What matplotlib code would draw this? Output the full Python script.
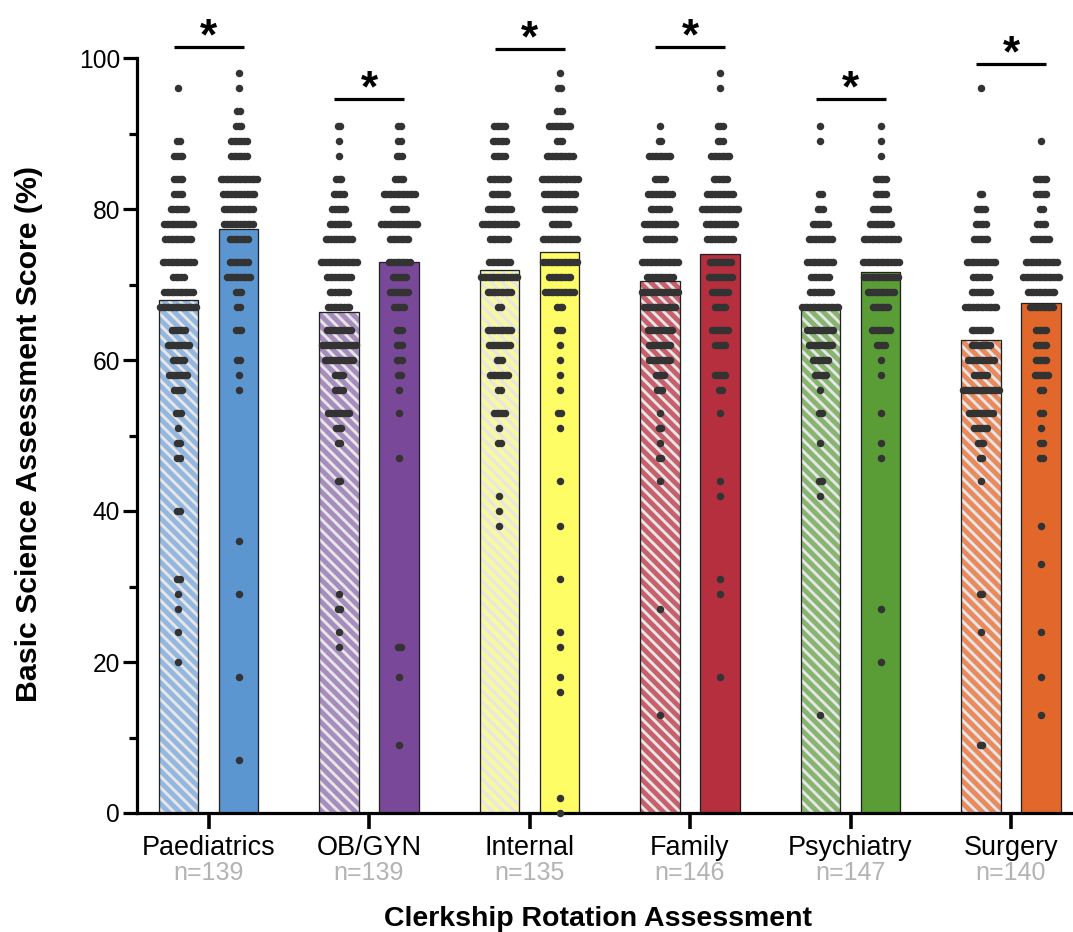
import matplotlib
matplotlib.use("Agg")
import matplotlib.pyplot as plt
from matplotlib.collections import LineCollection
from matplotlib.transforms import blended_transform_factory

DPI = 132
W, H = 1073, 932

plt.rcParams['font.family'] = ['Liberation Sans', 'DejaVu Sans']

# ---------------- data ----------------
categories = ['Paediatrics', 'OB/GYN', 'Internal', 'Family', 'Psychiatry', 'Surgery']
n_labels = ['n=139', 'n=139', 'n=135', 'n=146', 'n=147', 'n=140']

mean_before = [67.9, 66.3, 71.9, 70.4, 66.7, 62.6]
mean_after = [77.4, 73.0, 74.3, 74.0, 71.6, 67.5]
sig_height = [101.5, 94.6, 101.2, 101.5, 94.6, 99.2]

# score levels (value) and number of students at each level (count)
paed_before_vals = [96, 89, 87, 84, 82, 80, 78, 76, 73, 71, 69, 67, 64, 62, 60, 58, 56, 53, 51, 49, 47, 40, 31, 29, 27, 24, 20]
paed_before_cnts = [1, 2, 4, 4, 4, 7, 12, 11, 13, 5, 12, 15, 6, 9, 5, 8, 4, 3, 1, 2, 2, 2, 2, 1, 1, 1, 1]
paed_after_vals = [98, 96, 93, 91, 89, 87, 84, 82, 80, 78, 76, 73, 71, 69, 67, 64, 60, 58, 56, 36, 29, 18, 7]
paed_after_cnts = [1, 1, 2, 3, 7, 7, 15, 13, 12, 12, 8, 8, 10, 3, 2, 3, 2, 1, 1, 1, 1, 1, 1]

obgyn_before_vals = [91, 89, 87, 84, 82, 80, 78, 76, 73, 71, 69, 67, 64, 62, 60, 58, 56, 53, 51, 49, 44, 29, 27, 24, 22]
obgyn_before_cnts = [2, 1, 1, 3, 5, 6, 8, 11, 15, 10, 8, 9, 10, 14, 12, 4, 4, 9, 3, 2, 2, 1, 2, 1, 1]
obgyn_after_vals = [91, 89, 87, 84, 82, 80, 78, 76, 73, 71, 69, 67, 64, 62, 60, 58, 56, 53, 47, 22, 18, 9]
obgyn_after_cnts = [2, 2, 3, 4, 13, 6, 15, 8, 9, 6, 8, 5, 3, 3, 3, 2, 1, 1, 1, 2, 1, 1]

internal_before_vals = [91, 89, 87, 84, 82, 80, 78, 76, 73, 71, 69, 67, 64, 62, 60, 58, 56, 53, 51, 49, 42, 40, 38]
internal_before_cnts = [5, 6, 5, 8, 7, 10, 14, 8, 9, 15, 10, 2, 10, 9, 3, 8, 2, 5, 1, 2, 1, 1, 1]
internal_after_vals = [98, 96, 93, 91, 89, 87, 84, 82, 80, 78, 76, 73, 71, 69, 67, 64, 62, 60, 58, 56, 53, 51, 44, 38, 31, 24, 22, 18, 16, 2, 0]
internal_after_cnts = [1, 2, 3, 9, 3, 11, 15, 13, 12, 7, 14, 14, 9, 12, 3, 3, 1, 1, 1, 1, 2, 1, 1, 1, 1, 1, 1, 1, 1, 1, 1]

family_before_vals = [91, 89, 87, 84, 82, 80, 78, 76, 73, 71, 69, 67, 64, 62, 60, 58, 56, 53, 51, 49, 47, 44, 27, 13]
family_before_cnts = [1, 2, 9, 5, 10, 8, 13, 12, 15, 11, 15, 13, 10, 9, 9, 4, 3, 1, 2, 1, 2, 1, 1, 1]
family_after_vals = [98, 96, 91, 89, 87, 84, 82, 80, 78, 76, 73, 71, 69, 67, 64, 62, 58, 56, 53, 44, 42, 31, 29, 18]
family_after_cnts = [1, 1, 3, 3, 8, 6, 11, 15, 12, 11, 9, 10, 7, 5, 7, 5, 5, 2, 1, 1, 1, 1, 1, 1]

psych_before_vals = [91, 89, 82, 80, 78, 76, 73, 71, 69, 67, 64, 62, 60, 58, 56, 53, 49, 44, 42, 13]
psych_before_cnts = [1, 1, 2, 3, 7, 10, 11, 8, 9, 15, 11, 10, 7, 5, 1, 2, 1, 2, 1, 1]
psych_after_vals = [91, 89, 87, 84, 82, 80, 78, 76, 73, 71, 69, 67, 64, 62, 60, 58, 53, 49, 47, 27, 20]
psych_after_cnts = [1, 1, 1, 5, 5, 7, 9, 14, 15, 14, 11, 7, 8, 4, 1, 1, 1, 1, 1, 1, 1]

surgery_before_vals = [96, 82, 80, 78, 76, 73, 71, 69, 67, 64, 62, 60, 58, 56, 53, 51, 49, 47, 44, 29, 24, 9]
surgery_before_cnts = [1, 2, 4, 5, 6, 12, 7, 8, 13, 8, 8, 11, 6, 15, 10, 6, 3, 2, 1, 2, 1, 2]
surgery_after_vals = [89, 84, 82, 80, 78, 76, 73, 71, 69, 67, 64, 62, 60, 58, 56, 53, 51, 49, 47, 38, 33, 24, 18, 13]
surgery_after_cnts = [1, 5, 5, 2, 4, 7, 13, 15, 11, 10, 5, 5, 5, 6, 2, 2, 1, 2, 2, 1, 1, 1, 1, 1]

before_vals = [paed_before_vals, obgyn_before_vals, internal_before_vals, family_before_vals, psych_before_vals, surgery_before_vals]
before_cnts = [paed_before_cnts, obgyn_before_cnts, internal_before_cnts, family_before_cnts, psych_before_cnts, surgery_before_cnts]
after_vals = [paed_after_vals, obgyn_after_vals, internal_after_vals, family_after_vals, psych_after_vals, surgery_after_vals]
after_cnts = [paed_after_cnts, obgyn_after_cnts, internal_after_cnts, family_after_cnts, psych_after_cnts, surgery_after_cnts]

light_colors = ['#93b7de', '#a78cbe', '#f8f7a2', '#c7606b', '#87b56f', '#ea8a5c']
dark_colors = ['#5b96d1', '#7a4898', '#fefd66', '#b52f3e', '#5a9c36', '#e2672a']
stripe_color = '#e6e6e6'
dot_color = '#333333'
n_color = '#b3b3b3'

# ---------------- layout (pixel geometry) ----------------
def pt(px):
    return px * 72.0 / DPI

X0_PX, X_STEP_PX = 208.5, 160.5     # group centre of first category, spacing
AX_L, AX_BOT = 137, 813             # y-axis spine x, x-axis y (pixels from top)
Y_PX = 7.55                         # pixels per score unit
STRIPE_SP = 11.0                    # horizontal stripe period in px

fig = plt.figure(figsize=(W / DPI, H / DPI), dpi=DPI)
ax = fig.add_axes([AX_L / W, (H - AX_BOT) / H, (W - AX_L) / W, AX_BOT / H])
ax.set_xlim((AX_L - X0_PX) / X_STEP_PX, (W - X0_PX) / X_STEP_PX)
ax.set_ylim(0, AX_BOT / Y_PX)

bar_w = 39.5 / X_STEP_PX
off = 30.2 / X_STEP_PX
dot_sp = 2.6 / X_STEP_PX
max_span = 36.0 / X_STEP_PX

xs = list(range(len(categories)))


def draw_dots(xc, vals, cnts):
    px, py = [], []
    for v, c in zip(vals, cnts):
        sp = dot_sp
        if c > 1 and (c - 1) * sp > max_span:
            sp = max_span / (c - 1)
        for k in range(c):
            px.append(xc + (k - (c - 1) / 2.0) * sp)
            py.append(v)
    ax.plot(px, py, linestyle='none', marker='o', markersize=pt(7.5),
            markerfacecolor=dot_color, markeredgewidth=0, zorder=4, clip_on=False)


def draw_stripes(patch, xc, top):
    # diagonal stripes (top-left to bottom-right) clipped to the bar
    left_px = X0_PX + (xc - bar_w / 2) * X_STEP_PX
    right_px = X0_PX + (xc + bar_w / 2) * X_STEP_PX
    top_px = AX_BOT - top * Y_PX
    segs = []
    k0 = int((left_px - AX_BOT) // STRIPE_SP) - 1
    k1 = int((right_px - top_px) // STRIPE_SP) + 2
    for k in range(k0, k1):
        c = k * STRIPE_SP
        # x_px - y_down = c ; y_down = AX_BOT - v * Y_PX
        pts = []
        for v in (0.0, top):
            xp = c + AX_BOT - v * Y_PX
            pts.append(((xp - X0_PX) / X_STEP_PX, v))
        segs.append(pts)
    lc = LineCollection(segs, colors=stripe_color, linewidths=pt(2.9), zorder=1.5)
    ax.add_collection(lc)
    lc.set_clip_path(patch)


for i in xs:
    xb = i - off
    xa = i + off
    # hatched (before) bar
    bars = ax.bar(xb, mean_before[i], width=bar_w, color=light_colors[i],
                  linewidth=0, zorder=1)
    draw_stripes(bars.patches[0], xb, mean_before[i])
    ax.bar(xb, mean_before[i], width=bar_w, fill=False, edgecolor='#222222',
           linewidth=pt(1.3), zorder=2)
    # solid (after) bar
    ax.bar(xa, mean_after[i], width=bar_w, color=dark_colors[i], edgecolor='#222222',
           linewidth=pt(1.3), zorder=1)
    draw_dots(xb, before_vals[i], before_cnts[i])
    draw_dots(xa, after_vals[i], after_cnts[i])
    # significance bar
    half = 35.0 / X_STEP_PX
    ax.plot([i - half, i + half], [sig_height[i], sig_height[i]], color='black',
            linewidth=pt(3.2), solid_capstyle='butt', clip_on=False, zorder=5)
    ax.text(i, sig_height[i] - 0.35, '*', ha='center', va='baseline',
            fontsize=24, fontweight='bold', color='black', zorder=5)

# spines
for s in ['top', 'right']:
    ax.spines[s].set_visible(False)
ax.spines['left'].set_bounds(0, 100)
ax.spines['left'].set_linewidth(pt(3.2))
ax.spines['bottom'].set_linewidth(pt(3.2))

ax.set_yticks([0, 20, 40, 60, 80, 100])
ax.set_yticks([10, 30, 50, 70, 90], minor=True)
ax.tick_params(axis='y', which='major', length=pt(14), width=pt(3.2), pad=pt(3),
               labelsize=pt(24.5))
ax.tick_params(axis='y', which='minor', length=pt(8), width=pt(3.2))
ax.set_xticks(xs)
ax.set_xticklabels([''] * len(xs))
ax.tick_params(axis='x', which='major', length=pt(16), width=pt(3.6))

# category labels and n labels
tr = blended_transform_factory(ax.transData, fig.transFigure)
for i in xs:
    ax.text(i, (H - 855) / H, categories[i], transform=tr, ha='center', va='baseline',
            fontsize=pt(27), color='black')
    ax.text(i, (H - 880) / H, n_labels[i], transform=tr, ha='center', va='baseline',
            fontsize=pt(25), color=n_color)

fig.text(598 / W, (H - 926) / H, 'Clerkship Rotation Assessment', ha='center', va='baseline',
         fontsize=pt(28.5), fontweight='bold')
fig.text(37 / W, (H - 434.5) / H, 'Basic Science Assessment Score (%)', ha='center', va='baseline',
         rotation=90, rotation_mode='anchor', fontsize=pt(30.3), fontweight='bold')

fig.savefig('out.png', dpi=DPI)
